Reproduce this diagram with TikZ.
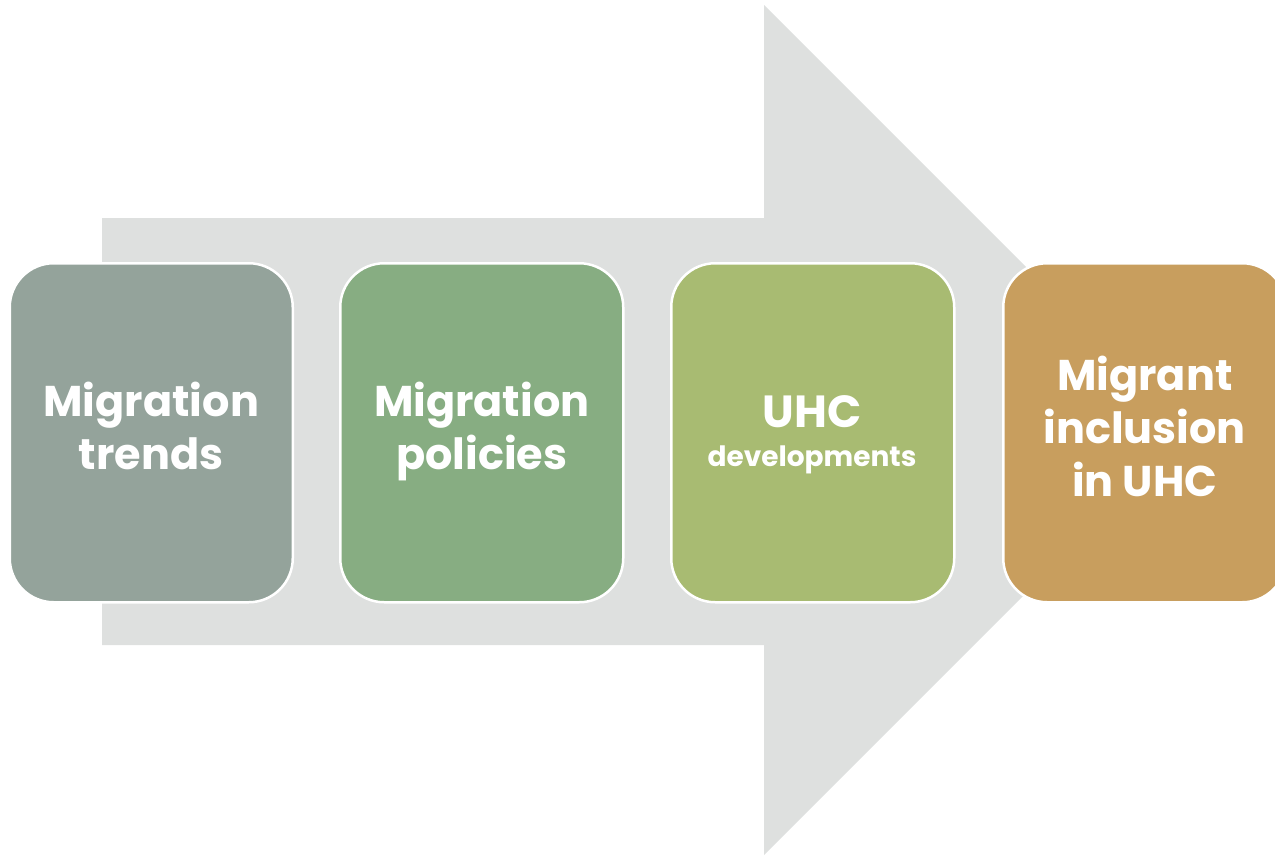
\documentclass[tikz,border=0pt]{standalone}
\usepackage{fontspec}
\setmainfont{Poppins}
\begin{document}
\begin{tikzpicture}[x=1pt,y=-1pt,
  stage/.style={rounded corners=44pt, draw=white, line width=2.5pt,
    minimum width=283pt, minimum height=339pt,
    text=white, align=center, anchor=north west, inner sep=0pt,
    font=\fontsize{43}{53}\selectfont\bfseries},
  word/.style={text=white, anchor=base, inner sep=0pt},
]
\definecolor{arrowgray}{HTML}{DEE0DF}
\definecolor{stageA}{HTML}{94A39B}
\definecolor{stageB}{HTML}{87AD82}
\definecolor{stageC}{HTML}{A8BB72}
\definecolor{stageD}{HTML}{C89E5E}
\useasboundingbox (0,0) rectangle (1275,855);
\clip (0,0) rectangle (1275,855);
% large block arrow behind the stages
\fill[arrowgray] (102,218) -- (764,218) -- (764,5) -- (1189,430)
  -- (764,855) -- (764,645) -- (102,645) -- cycle;
% stages
\node[stage, fill=stageA] (s1) at (8.5,262) {\strut Migration\\\strut trends};
\node[stage, fill=stageB] (s2) at (339,262) {\strut Migration\\\strut policies};
\node[stage, fill=stageC] (s3) at (670,262) {};
\node[word, font=\fontsize{45}{50}\selectfont\bfseries]
  (s3a) at (812,427) {UHC};
\node[word, font=\fontsize{28}{32}\selectfont\bfseries]
  (s3b) at (812,466) {developments};
\node[stage, fill=stageD] (s4) at (1002,262)
  {\strut Migrant\\\strut inclusion\\\strut in UHC};
\end{tikzpicture}
\end{document}
